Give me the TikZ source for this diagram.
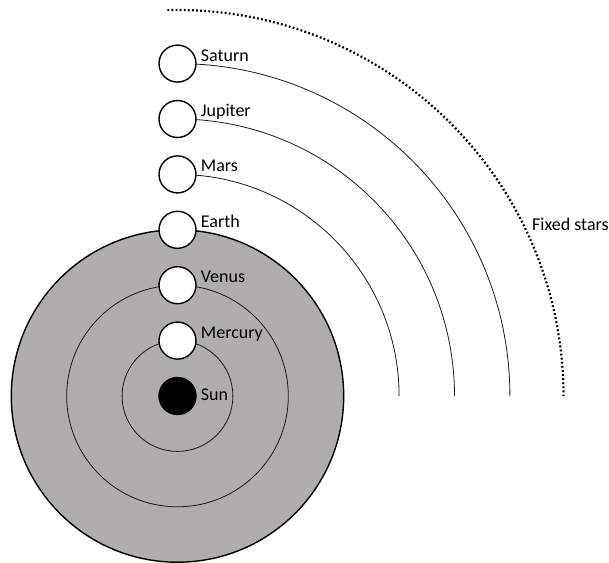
\documentclass[tikz,border=0pt]{standalone}
\usepackage{fontspec}
\setmainfont{Carlito}
\definecolor{DiskGray}{HTML}{AFADAD}
\definecolor{OrbitBlack}{HTML}{1A1A1A}

\begin{document}
\begin{tikzpicture}[
    x=1pt,y=1pt,
    font=\fontsize{18}{21}\selectfont,
    planet/.style={circle,draw=black,line width=1.4pt,fill=white,
                   minimum size=37pt,inner sep=0pt},
    sun/.style={planet,fill=black},
    orbit/.style={draw=OrbitBlack,line width=0.8pt},
    lbl/.style={anchor=base west,inner sep=0pt,xshift=4pt,yshift=#1},
    lbl/.default=2.5pt
  ]
  \useasboundingbox (-177.5,-166) rectangle (431.5,396);
  % inner orbits, Earth on the edge of the disk
  \filldraw[fill=DiskGray,draw=black,line width=1.4pt] (0,0) circle[radius=166.2];
  \draw[orbit] (0,0) circle[radius=55.4];
  \draw[orbit] (0,0) circle[radius=110.8];
  % outer orbits
  \foreach \r in {221.6,277,332.4}
    \draw[orbit] (0,\r) arc[start angle=90,end angle=0,radius=\r];
  \draw[line width=2.2pt,dash pattern=on 1.8pt off 2.3pt]
    (91.5:386) arc[start angle=91.5,end angle=0,radius=386];
  \node[anchor=base west,inner sep=0pt] (stars) at (354.5,166) {Fixed stars};
  % bodies
  \node[sun,label={[lbl=-4pt]0:Sun}] (sun) at (0,0) {};
  \node[planet,label={[lbl]0:Mercury}] (mercury) at (0,55.4) {};
  \node[planet,label={[lbl]0:Venus}] (venus) at (0,110.8) {};
  \node[planet,label={[lbl]0:Earth}] (earth) at (0,166.2) {};
  \node[planet,label={[lbl]0:Mars}] (mars) at (0,221.6) {};
  \node[planet,label={[lbl]0:Jupiter}] (jupiter) at (0,277) {};
  \node[planet,label={[lbl]0:Saturn}] (saturn) at (0,332.4) {};
\end{tikzpicture}
\end{document}
